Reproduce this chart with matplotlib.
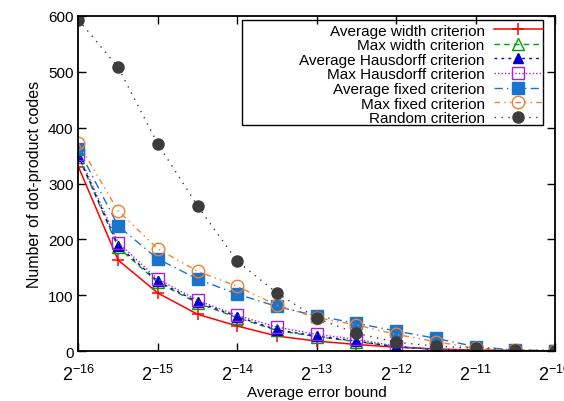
import matplotlib.pyplot as plt
from matplotlib.patches import Rectangle
import numpy as np

plt.rcParams['font.family'] = ['Liberation Sans', 'DejaVu Sans']
plt.rcParams['mathtext.fontset'] = 'custom'
plt.rcParams['mathtext.rm'] = 'Liberation Sans'
plt.rcParams['mathtext.it'] = 'Liberation Sans'

# exponents of the error bound (base 2)
exponents = [-16, -15.5, -15, -14.5, -14, -13.5, -13, -12.5, -12, -11.5, -11, -10.5, -10]

avg_width = [330, 163, 104, 66, 45, 27, 18, 12, 7, 4, 2, 1, 0]
max_width = [348, 186, 123, 86, 60, 37, 26, 17, 8, 3, 1, 1, 0]
avg_hausdorff = [350, 189, 125, 88, 62, 38, 27, 18, 8, 3, 1, 1, 0]
max_hausdorff = [353, 194, 129, 91, 64, 43, 30, 21, 9, 3, 1, 1, 0]
avg_fixed = [362, 224, 165, 129, 102, 80, 63, 50, 36, 23, 8, 2, 1]
max_fixed = [372, 251, 183, 143, 116, 82, 60, 47, 30, 17, 5, 2, 1]
random_crit = [593, 508, 371, 260, 161, 104, 59, 32, 16, 9, 5, 2, 1]

x = 2.0 ** np.array(exponents)

fig = plt.figure(figsize=(5.64, 4.02), dpi=100)
ax = fig.add_axes([0.139, 0.124, 0.845, 0.834])

ax.plot(x, avg_width, color='#ff0000', linestyle='-', lw=1.1, marker='+', ms=9, mew=1.1,
        label='Average width criterion')
ax.plot(x, max_width, color='#00a000', linestyle=(0, (4, 3)), lw=1.0, marker='^', ms=8,
        mfc='none', mew=1.0, label='Max width criterion')
ax.plot(x, avg_hausdorff, color='#0000c8', linestyle=(0, (2, 3)), lw=1.0, marker='^', ms=7,
        label='Average Hausdorff criterion')
ax.plot(x, max_hausdorff, color='#a020f0', linestyle=(0, (1, 1.5)), lw=1.0, marker='s', ms=8,
        mfc='none', mew=1.0, label='Max Hausdorff criterion')
ax.plot(x, avg_fixed, color='#1874cd', linestyle=(0, (6, 3, 1, 3)), lw=1.0, marker='s', ms=8,
        label='Average fixed criterion')
ax.plot(x, max_fixed, color='#f08030', linestyle=(0, (4, 3, 1, 3, 1, 3)), lw=1.0, marker='o', ms=9,
        mfc='none', mew=1.0, label='Max fixed criterion')
ax.plot(x, random_crit, color='#3c3c3c', linestyle=(0, (1, 4)), lw=1.0, marker='o', ms=8,
        label='Random criterion')

ax.set_xscale('log', base=2)
ax.set_xlim(2.0 ** -16, 2.0 ** -10)
ax.set_ylim(0, 600)
xt = np.arange(-16, -9)
ax.set_xticks(2.0 ** xt)
ax.set_xticklabels(['$2^{%d}$' % e for e in xt])
ax.minorticks_off()
ax.set_yticks(np.arange(0, 601, 100))
ax.tick_params(direction='in', top=True, right=True, labelsize=11, length=6, width=1)
ax.tick_params(axis='x', labelsize=13, pad=9)
for s in ax.spines.values():
    s.set_linewidth(1.3)

ax.set_xlabel('Average error bound', fontsize=11, labelpad=1)
ax.set_ylabel('Number of dot-product codes', fontsize=11.5)

leg = ax.legend(loc='upper right', bbox_to_anchor=(0.99, 1.0), markerfirst=False,
                fontsize=11, labelspacing=0.04, handlelength=3.2, borderpad=0.3,
                frameon=False, handletextpad=0.6, borderaxespad=0.2)
for t in leg.get_texts():
    t.set_ha('right')
leg._legend_box.align = 'right'

# gnuplot style key box, wider than the entries
ax.add_patch(Rectangle((0.344, 0.675), 0.631, 0.313, transform=ax.transAxes,
                       fill=False, edgecolor='black', lw=1.0, zorder=5))

fig.savefig('out.png', dpi=100)
